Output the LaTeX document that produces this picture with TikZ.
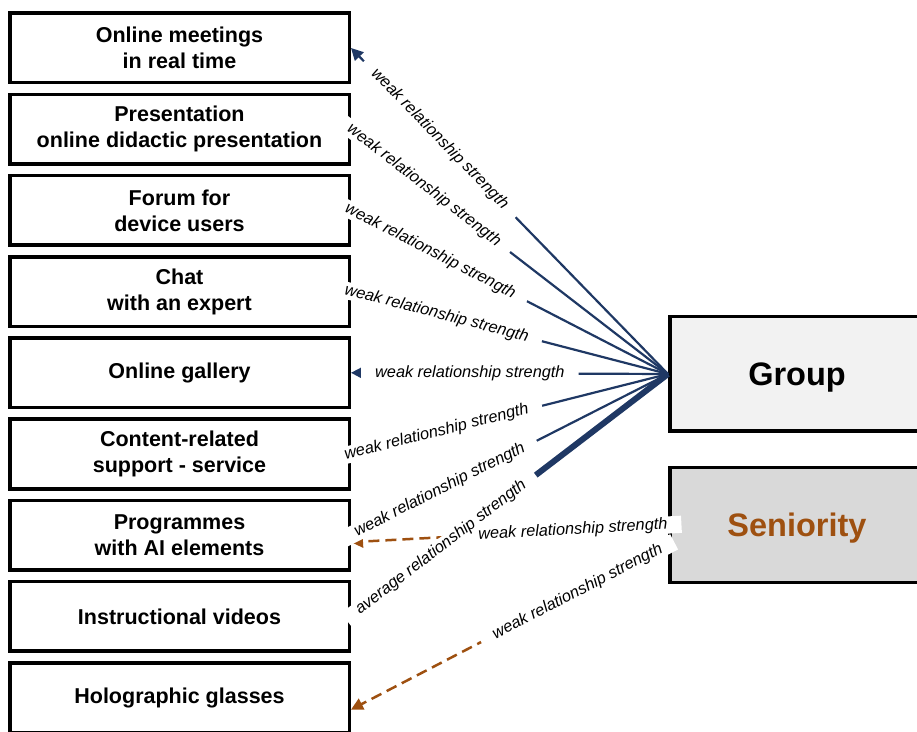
\documentclass[tikz,border=0pt]{standalone}
\usepackage{fontspec}
\setmainfont{Liberation Sans}
\usetikzlibrary{positioning,arrows.meta}
\definecolor{relBlue}{RGB}{31,56,100}
\definecolor{relBrown}{RGB}{158,80,16}
\definecolor{grpGray}{RGB}{242,242,242}
\definecolor{senGray}{RGB}{217,217,217}
\tikzset{
	boxA/.style={
		draw, line width=3.5pt, fill=white, inner sep=0pt,
		minimum width=339.5pt, minimum height=69.5pt, align=center,
		font={\fontsize{21.5}{26}\selectfont\bfseries}
	},
	factA/.style={
		draw, line width=3.5pt, inner sep=0pt, text depth=0pt,
		minimum width=254.5pt, minimum height=114.5pt,
		font={\fontsize{32.5}{36}\selectfont\bfseries}
	},
	relA/.style={->, draw=relBlue, line width=2.2pt},
	relB/.style={->, draw=relBrown, line width=2.5pt, dash pattern=on 11pt off 6pt},
	labA/.style={
		sloped, fill=white, inner xsep=14pt, inner ysep=1pt,
		font={\fontsize{16.3}{18}\selectfont\itshape}
	},
	>={Triangle[length=12pt,width=12pt]},
}
\def\gapB{8.2}

\begin{document}
\begin{tikzpicture}[x=1pt, y=1pt, node distance=\gapB pt]
\useasboundingbox (0,0) rectangle (917,731);
\node[boxA] (meet) at (179.5,683) {Online meetings\\in real time};
\node[boxA, below=of meet] (pres) {Presentation\\online didactic presentation};
\node[boxA, below=of pres] (forum) {Forum for\\device users};
\node[boxA, below=of forum] (chat) {Chat\\with an expert};
\node[boxA, below=of chat] (gall) {Online gallery};
\node[boxA, below=of gall] (supp) {Content-related\\support - service};
\node[boxA, below=of supp] (prog) {Programmes\\with AI elements};
\node[boxA, below=of prog] (video) {Instructional videos};
\node[boxA, below=of video] (holo) {Holographic glasses};

\node[factA, fill=grpGray, anchor=west] (group) at (668,357) {Group};
\node[factA, fill=senGray, text=relBrown, below=33pt of group] (senior) {Seniority};

% seniority
\path (senior.west) edge[relB] node[labA, pos=0.3] {weak relationship strength} ([yshift=-7pt]prog.east);
\path ([yshift=-20pt]senior.west) edge[relB] node[labA, pos=0.285] {weak relationship strength} ([yshift=-12pt]holo.east);
% group
\path (group.west) edge[relA] node[labA, pos=0.72] {weak relationship strength} (meet.east);
\path (group.west) edge[relA] node[labA, pos=0.77] {weak relationship strength} (pres.east);
\path (group.west) edge[relA] node[labA, pos=0.75] {weak relationship strength} (forum.east);
\path (group.west) edge[relA] node[labA, pos=0.73] {weak relationship strength} (chat.east);
\path (group.west) edge[relA] node[labA, pos=0.625] {weak relationship strength} (gall.east);
\path (group.west) edge[relA] node[labA, pos=0.73] {weak relationship strength} (supp.east);
\path (group.west) edge[relA] node[labA, pos=0.72] {weak relationship strength} (prog.east);
\path (group.west) edge[relA, line width=6pt] node[labA, pos=0.716] {average relationship strength} (video.east);
\end{tikzpicture}
\end{document}
